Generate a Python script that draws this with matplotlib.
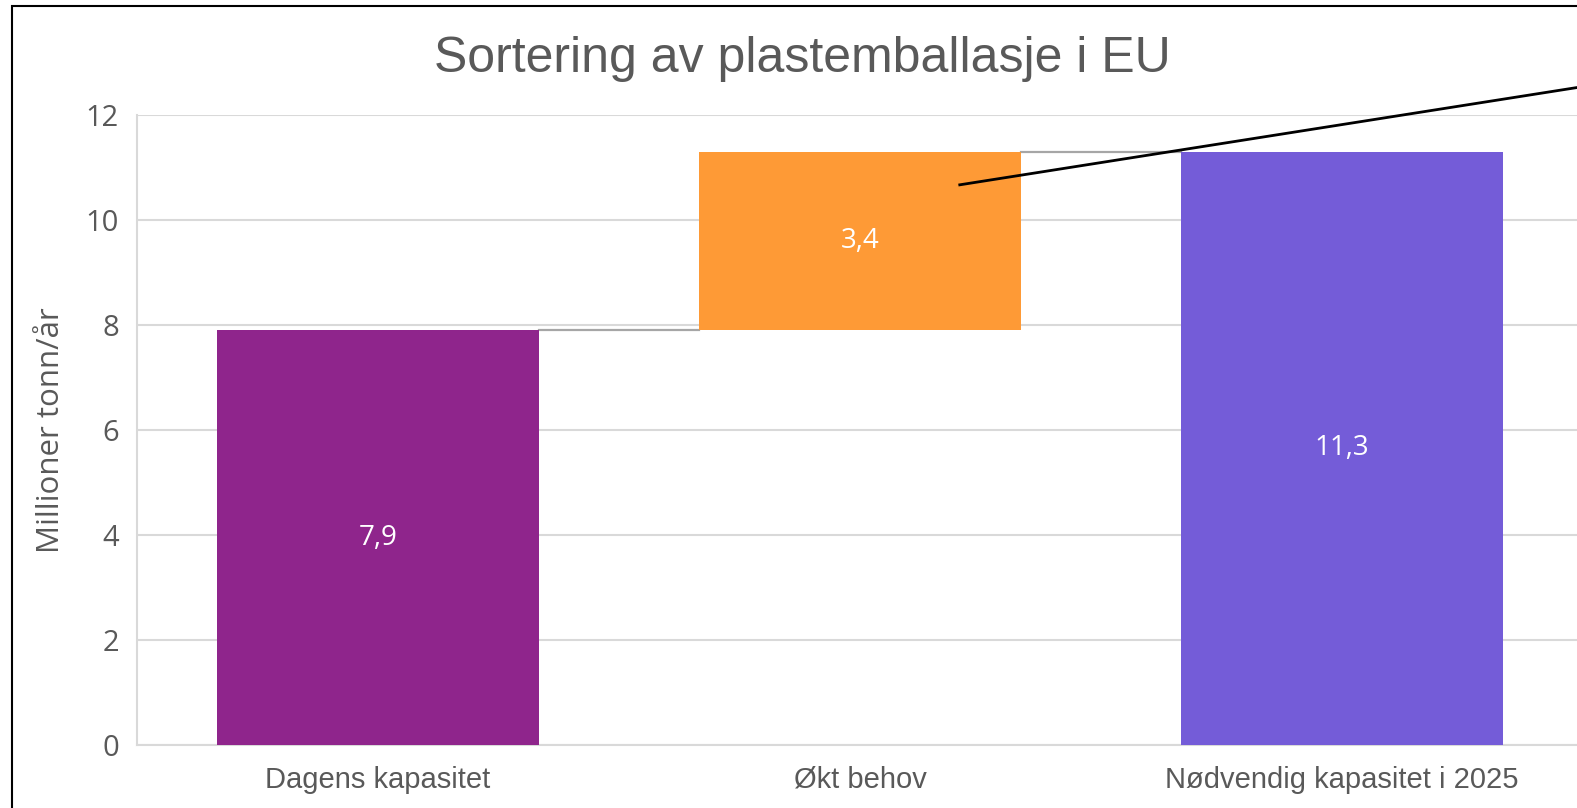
import matplotlib
matplotlib.use("Agg")
import matplotlib.pyplot as plt
from matplotlib.patches import Rectangle

categories = ["Dagens kapasitet", "Økt behov", "Nødvendig kapasitet i 2025"]
values = [7.9, 3.4, 11.3]
bottoms = [0.0, 7.9, 0.0]
labels = ["7,9", "3,4", "11,3"]
colors = ["#8F258C", "#FE9A36", "#745CD8"]
yticks = [0, 2, 4, 6, 8, 10, 12]

W, H = 1577, 808
fig = plt.figure(figsize=(W / 100, H / 100), dpi=100)
ax = fig.add_axes([137 / W, 1 - 745 / H, 1446 / W, (745 - 115) / H])

x = list(range(len(categories)))
bw = 0.668
ax.bar(x, values, bottom=bottoms, width=bw, color=colors, zorder=3)

# connector lines
tops = [b + v for b, v in zip(bottoms, values)]
for i in range(len(categories) - 1):
    ax.plot([x[i] + bw / 2, x[i + 1] - bw / 2], [tops[i], tops[i]],
            color="#A6A6A6", lw=1.6, zorder=2)

for xi, b, v, lab in zip(x, bottoms, values, labels):
    ax.text(xi, b + v / 2, lab, ha="center", va="center", color="white",
            fontsize=20, family="Open Sans", zorder=4)

ax.set_xlim(-0.5, 2.5)
ax.set_ylim(0, 12)
ax.set_yticks(yticks)
ax.set_yticklabels([str(t) for t in yticks])
ax.set_xticks(x)
ax.set_xticklabels(categories)
for lbl in ax.get_yticklabels():
    lbl.set_family("Open Sans")
    lbl.set_fontsize(21)
    lbl.set_color("#595959")
for lbl in ax.get_xticklabels():
    lbl.set_family("Liberation Sans")
    lbl.set_fontsize(21)
    lbl.set_color("#595959")
ax.tick_params(axis="y", length=0, pad=13)
ax.tick_params(axis="x", length=0, pad=15)
ax.grid(axis="y", color="#D9D9D9", lw=1.5, zorder=0)
ax.set_axisbelow(True)
for s in ["top", "right"]:
    ax.spines[s].set_visible(False)
ax.spines["left"].set_color("#D9D9D9")
ax.spines["left"].set_linewidth(1.5)
ax.spines["bottom"].set_color("#D9D9D9")
ax.spines["bottom"].set_linewidth(1.5)

ax.set_ylabel("Millioner tonn/år", fontsize=22.5, color="#595959",
              family="Open Sans", labelpad=14)

fig.text(0.5 * (440 + 1165) / W, 1 - 59 / H, "Sortering av plastemballasje i EU",
         ha="center", va="center", fontsize=36, color="#595959",
         family="Liberation Sans")

# annotation line (callout)
ax.plot([1.207, 2.52], [10.67, 12.57], color="black", lw=2, clip_on=False, zorder=5)

# frame border
fig.add_artist(Rectangle((12.5 / W, -0.1), 1.2, 1.1 - 6.5 / H, transform=fig.transFigure,
                         fill=False, edgecolor="black", lw=1.5))

fig.savefig("out.png", dpi=100)
